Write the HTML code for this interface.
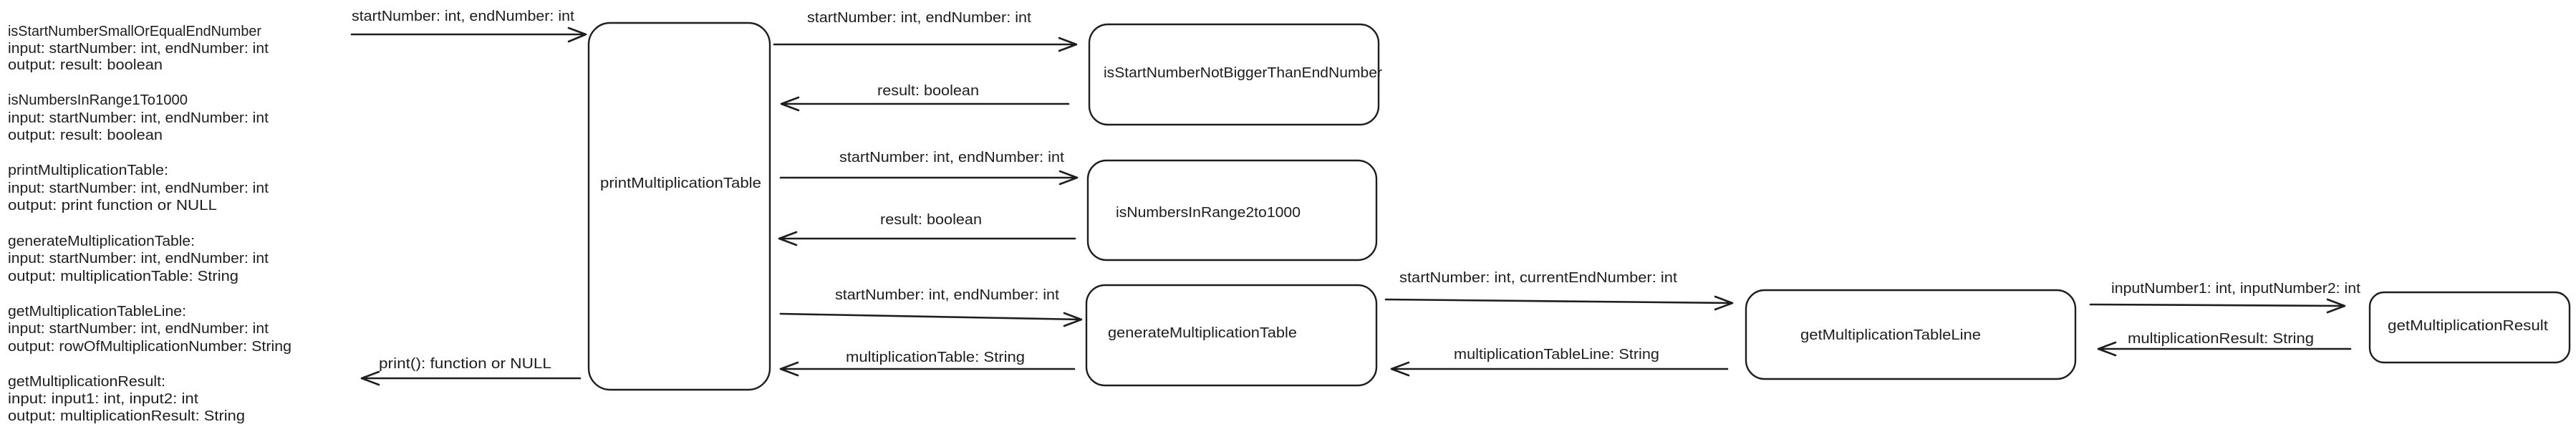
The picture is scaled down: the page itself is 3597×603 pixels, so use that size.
<!DOCTYPE html>
<html><head><meta charset="utf-8"><style>
html,body{margin:0;padding:0;background:#fff;}
svg{display:block;}
text{font-family:"Liberation Sans",sans-serif;font-size:20px;fill:#1e1e1e;dominant-baseline:central;}
.s{stroke:#1e1e1e;stroke-width:2.6;fill:none;stroke-linecap:round;stroke-linejoin:round;}
.b{stroke:#1e1e1e;stroke-width:2.4;fill:#fff;}
</style></head><body>
<svg width="3597" height="603" viewBox="0 0 3597 603" xmlns="http://www.w3.org/2000/svg">
<!-- left notes -->
<g lengthAdjust="spacingAndGlyphs">
<text x="11" y="44" textLength="354" lengthAdjust="spacingAndGlyphs">isStartNumberSmallOrEqualEndNumber</text>
<text x="11" y="68" textLength="364" lengthAdjust="spacingAndGlyphs">input: startNumber: int, endNumber: int</text>
<text x="11" y="91" textLength="216" lengthAdjust="spacingAndGlyphs">output: result: boolean</text>
<text x="11" y="140" textLength="251" lengthAdjust="spacingAndGlyphs">isNumbersInRange1To1000</text>
<text x="11" y="165" textLength="364" lengthAdjust="spacingAndGlyphs">input: startNumber: int, endNumber: int</text>
<text x="11" y="189" textLength="216" lengthAdjust="spacingAndGlyphs">output: result: boolean</text>
<text x="11" y="238" textLength="224" lengthAdjust="spacingAndGlyphs">printMultiplicationTable:</text>
<text x="11" y="263" textLength="364" lengthAdjust="spacingAndGlyphs">input: startNumber: int, endNumber: int</text>
<text x="11" y="287" textLength="292" lengthAdjust="spacingAndGlyphs">output: print function or NULL</text>
<text x="11" y="337" textLength="261" lengthAdjust="spacingAndGlyphs">generateMultiplicationTable:</text>
<text x="11" y="361" textLength="364" lengthAdjust="spacingAndGlyphs">input: startNumber: int, endNumber: int</text>
<text x="11" y="386" textLength="322" lengthAdjust="spacingAndGlyphs">output: multiplicationTable: String</text>
<text x="11" y="435" textLength="249" lengthAdjust="spacingAndGlyphs">getMultiplicationTableLine:</text>
<text x="11" y="459" textLength="364" lengthAdjust="spacingAndGlyphs">input: startNumber: int, endNumber: int</text>
<text x="11" y="484" textLength="396" lengthAdjust="spacingAndGlyphs">output: rowOfMultiplicationNumber: String</text>
<text x="11" y="533" textLength="220" lengthAdjust="spacingAndGlyphs">getMultiplicationResult:</text>
<text x="11" y="557" textLength="266" lengthAdjust="spacingAndGlyphs">input: input1: int, input2: int</text>
<text x="11" y="581" textLength="331" lengthAdjust="spacingAndGlyphs">output: multiplicationResult: String</text>
</g>

<!-- boxes -->
<rect class="b" x="822" y="32" width="253" height="512" rx="30"/>
<rect class="b" x="1521" y="34" width="404" height="140" rx="26"/>
<rect class="b" x="1519" y="224" width="403" height="139" rx="26"/>
<rect class="b" x="1517" y="398" width="405" height="140" rx="26"/>
<rect class="b" x="2438" y="405" width="460" height="124" rx="26"/>
<rect class="b" x="3309" y="408" width="279" height="98" rx="20"/>

<text x="838" y="256" textLength="225" lengthAdjust="spacingAndGlyphs">printMultiplicationTable</text>
<text x="1541" y="102" textLength="389" lengthAdjust="spacingAndGlyphs">isStartNumberNotBiggerThanEndNumber</text>
<text x="1558" y="297" textLength="258" lengthAdjust="spacingAndGlyphs">isNumbersInRange2to1000</text>
<text x="1547" y="465" textLength="264" lengthAdjust="spacingAndGlyphs">generateMultiplicationTable</text>
<text x="2514" y="468" textLength="252" lengthAdjust="spacingAndGlyphs">getMultiplicationTableLine</text>
<text x="3334" y="455" textLength="224" lengthAdjust="spacingAndGlyphs">getMultiplicationResult</text>

<!-- arrows -->
<g class="s">
<path d="M491 48 L818 48 M794 39 L818 48 L794 58"/>
<path d="M810 528 L505 528 M529 519 L505 528 L529 537"/>
<path d="M1081 62 L1503 62 M1479 53 L1503 62 L1479 71"/>
<path d="M1492 145 L1091 145 M1115 136 L1091 145 L1115 154"/>
<path d="M1090 248 L1504 248 M1480 239 L1504 248 L1480 257"/>
<path d="M1501 333 L1088 333 M1112 324 L1088 333 L1112 342"/>
<path d="M1090 438 L1510 446 M1486 437 L1510 446 L1486 455"/>
<path d="M1500 515 L1090 515 M1114 506 L1090 515 L1114 524"/>
<path d="M1935 418 L2419 423 M2395 414 L2419 423 L2395 432"/>
<path d="M2412 515 L1943 515 M1967 506 L1943 515 L1967 524"/>
<path d="M2919 425 L3274 427 M3250 418 L3274 427 L3250 436"/>
<path d="M3282 487 L2930 487 M2954 478 L2930 487 L2954 496"/>
</g>

<!-- arrow labels -->
<text x="491" y="23" textLength="311" lengthAdjust="spacingAndGlyphs">startNumber: int, endNumber: int</text>
<text x="529" y="508" textLength="241" lengthAdjust="spacingAndGlyphs">print(): function or NULL</text>
<text x="1127" y="25" textLength="313" lengthAdjust="spacingAndGlyphs">startNumber: int, endNumber: int</text>
<text x="1225" y="127" textLength="142" lengthAdjust="spacingAndGlyphs">result: boolean</text>
<text x="1172" y="220" textLength="314" lengthAdjust="spacingAndGlyphs">startNumber: int, endNumber: int</text>
<text x="1229" y="307" textLength="142" lengthAdjust="spacingAndGlyphs">result: boolean</text>
<text x="1166" y="412" textLength="313" lengthAdjust="spacingAndGlyphs">startNumber: int, endNumber: int</text>
<text x="1181" y="499" textLength="250" lengthAdjust="spacingAndGlyphs">multiplicationTable: String</text>
<text x="1954" y="388" textLength="388" lengthAdjust="spacingAndGlyphs">startNumber: int, currentEndNumber: int</text>
<text x="2030" y="495" textLength="287" lengthAdjust="spacingAndGlyphs">multiplicationTableLine: String</text>
<text x="2948" y="403" textLength="348" lengthAdjust="spacingAndGlyphs">inputNumber1: int, inputNumber2: int</text>
<text x="2971" y="473" textLength="260" lengthAdjust="spacingAndGlyphs">multiplicationResult: String</text>
</svg>
</body></html>
